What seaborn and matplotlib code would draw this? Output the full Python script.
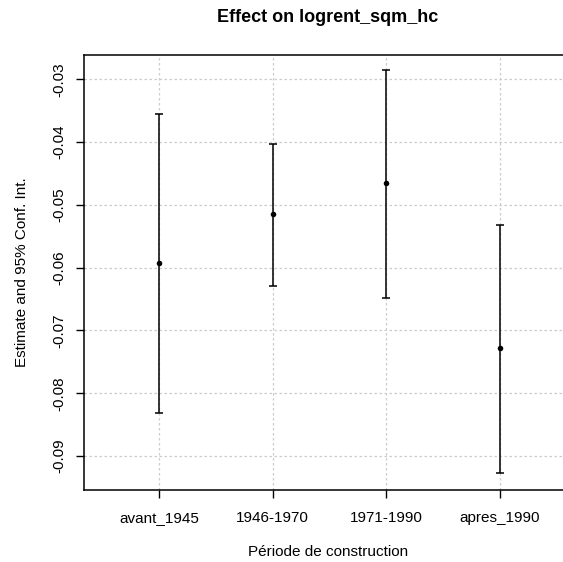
import matplotlib
matplotlib.use("Agg")
import matplotlib.pyplot as plt
import seaborn as sns
import pandas as pd
import numpy as np

categories = ["avant_1945", "1946-1970", "1971-1990", "apres_1990"]
estimate = [-0.0593, -0.0515, -0.0465, -0.0728]
lower = [-0.0831, -0.0630, -0.0648, -0.0927]
upper = [-0.0356, -0.0403, -0.0285, -0.0532]
yticks = [-0.09, -0.08, -0.07, -0.06, -0.05, -0.04, -0.03]

sns.set_style("white")
plt.rcParams["font.family"] = ["Liberation Sans", "DejaVu Sans"]
plt.rcParams["text.color"] = "black"
plt.rcParams["axes.labelcolor"] = "black"

df = pd.DataFrame({"cat": categories, "pos": np.arange(1, len(categories) + 1),
                   "est": estimate, "lo": lower, "hi": upper})

W, H = 563, 562
fig = plt.figure(figsize=(W / 100, H / 100), dpi=100)
left, right_px, top, bottom = 84.3, 574.6, 54.7, 490.0
ax = fig.add_axes([left / W, (H - bottom) / H, (right_px - left) / W, (bottom - top) / H])

ax.set_xlim(0.34, 4.66)
ax.set_ylim(-0.0954, -0.0261)

# grid
for x in df["pos"]:
    ax.axvline(x, color="#cccccc", lw=0.9, ls=(0, (2, 2)), zorder=0)
for y in yticks:
    ax.axhline(y, color="#cccccc", lw=0.9, ls=(0, (2, 2)), zorder=0)

ax.errorbar(df["pos"], df["est"], yerr=[df["est"] - df["lo"], df["hi"] - df["est"]],
            fmt="none", ecolor="black", elinewidth=1.1, capsize=3.2, capthick=1.1, zorder=2)
sns.scatterplot(data=df, x="pos", y="est", ax=ax, color="black", s=16,
                edgecolor="black", linewidth=0, zorder=3, legend=False)

ax.set_xticks(df["pos"])
ax.set_xticklabels(categories)
ax.set_yticks(yticks)
ax.set_yticklabels([f"{v:.2f}" for v in yticks], rotation=90, va="center")
ax.tick_params(axis="both", direction="out", length=5.8, width=1.0, color="black",
               labelsize=11, labelcolor="black", bottom=True, left=True)
ax.tick_params(axis="x", pad=9)
ax.tick_params(axis="y", pad=7)

for s in ax.spines.values():
    s.set_visible(True)
    s.set_color("black")
    s.set_linewidth(1.1)

ax.set_xlabel("Période de construction", fontsize=11)
ax.set_ylabel("Estimate and 95% Conf. Int.", fontsize=11)
ax.xaxis.label.set_va("center")
ax.yaxis.label.set_va("center")
ax.xaxis.set_label_coords((328 - left) / (right_px - left), (bottom - 552) / (bottom - top))
ax.yaxis.set_label_coords((22.5 - left) / (right_px - left), 0.5)
fig.text(328 / W, 1 - 18 / H, "Effect on logrent_sqm_hc", ha="center", va="center",
         fontsize=13, fontweight="bold", color="black")

fig.savefig("out.png", dpi=100)
